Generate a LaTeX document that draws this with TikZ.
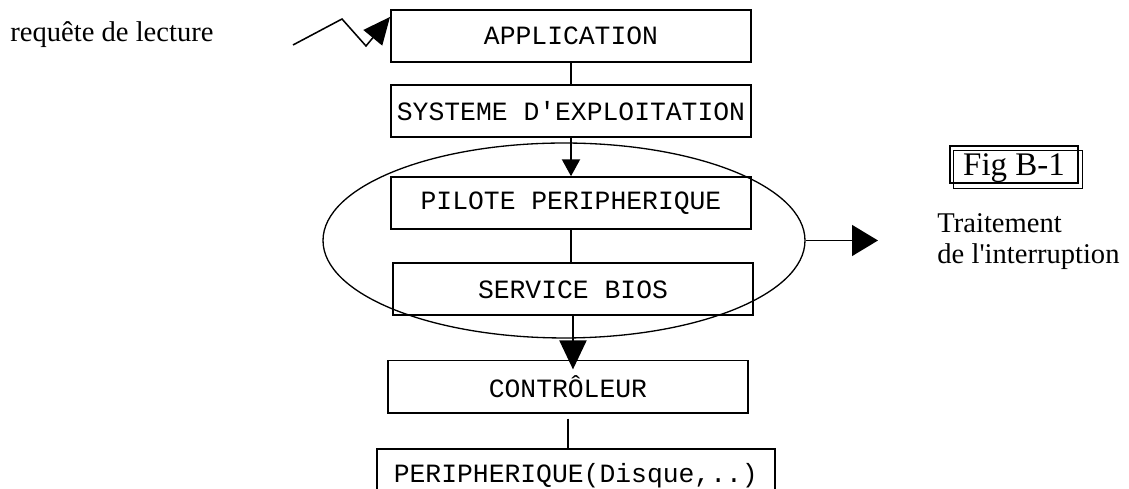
\documentclass[tikz,border=0pt]{standalone}
\usepackage{fontspec}
\setmainfont{Liberation Serif}
\setmonofont{Liberation Mono}
\usetikzlibrary{positioning,shapes.geometric,arrows.meta,calc}

\begin{document}
\begin{tikzpicture}[x=0.455pt, y=-0.455pt, node distance=9.6pt]
    % Define the styles for each node
    \tikzstyle{box} = [rectangle, draw, line width=0.9pt, minimum width=163.8pt, minimum height=23.7pt, inner sep=0pt, font=\ttfamily\fontsize{12pt}{14pt}\selectfont]
    \tikzstyle{note} = [inner sep=0pt, font=\fontsize{13pt}{14.1pt}\selectfont]
    \tikzstyle{link} = [line width=0.9pt]

    \useasboundingbox (0,0) rectangle (1129,489);
    \clip (0,0) rectangle (1129,489);

    % Create the nodes for each layer
    \node [box] (app) at (571,36) {APPLICATION};
    \node [box, below=9.6pt of app] (sys) {SYSTEME D'EXPLOITATION};
    \node [box, below=17.3pt of sys] (pilote) {PILOTE PERIPHERIQUE};
    \node [box, below=14.6pt of pilote, xshift=0.9pt] (bios) {SERVICE BIOS};
    \node [box, below=19.6pt of bios, xshift=-2.3pt] (ctrl) {CONTRÔLEUR};
    \node [box, below=15.5pt of ctrl, xshift=3.6pt, minimum width=181pt, minimum height=24.6pt] (periph) {PERIPHERIQUE(Disque,..)};

    % Create the ellipse round the driver and the BIOS
    \node [ellipse, draw, line width=0.6pt, minimum width=219.3pt, minimum height=88.7pt, inner sep=0pt] (intr) at (564,240.5) {};

    % Create the figure label
    \node [draw, line width=0.6pt, minimum width=58.2pt, minimum height=16.8pt, text depth=0pt, font=\fontsize{15pt}{18pt}\selectfont] (fig) at (1014,164.5) {Fig B-1};
    \draw [line width=0.6pt] ([shift={(4,5)}]fig.north west) rectangle ([shift={(4,5)}]fig.south east);

    % Add the texts
    \node [note, anchor=base west] (req) at (10,42) {requête de lecture};
    \node [note, anchor=north west, align=left] (trt) at (937,213) {Traitement\\de l\textquotesingle interruption};

    % Draw the connectors between the layers
    \draw [link] (app) -- (sys);
    \draw [link, -{Triangle[length=7.7pt, width=8.2pt]}] (sys) -- (pilote);
    \draw [link] (pilote.south) -- (pilote.south |- bios.north);
    \draw [link, -{Triangle[length=13.2pt, width=12.3pt]}, shorten >=-4.5pt] (bios.south) -- (bios.south |- ctrl.north);
    \draw [link, shorten <=2.3pt] (ctrl.south) -- (ctrl.south |- periph.north);

    % Draw the request arrow
    \coordinate (start) at (293,45);
    \draw [line width=0.7pt, -{Triangle[length=12.3pt, width=11pt]}] (start) -- ++(49,-26) -- ++(24,27) -- ($(app.north west)+(0,8)$);

    % Draw the interruption arrow
    \coordinate (out) at (878,240.5);
    \draw [link, -{Triangle[length=11.8pt, width=14pt]}] (intr.east) -- (out);
\end{tikzpicture}
\end{document}
